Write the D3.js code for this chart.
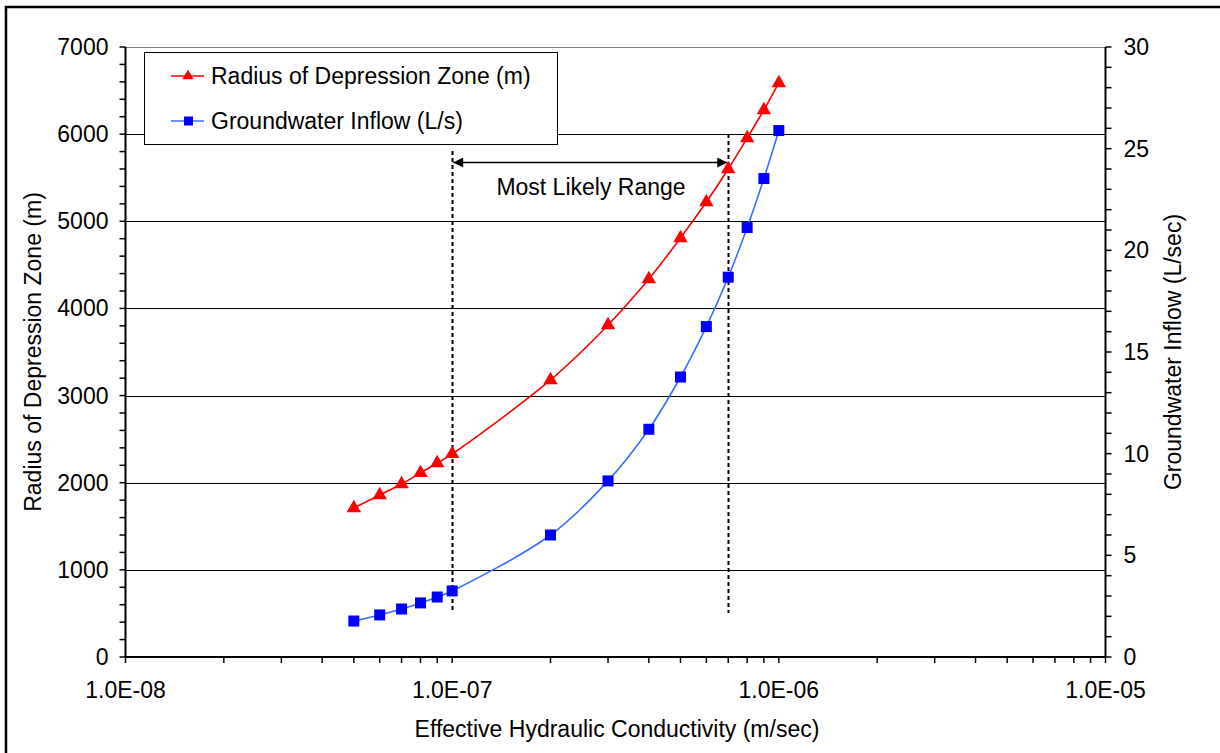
<!DOCTYPE html>
<html><head><meta charset="utf-8">
<script src="https://cdn.jsdelivr.net/npm/d3@7"></script>
<style>
html,body{margin:0;padding:0;background:#fff;}
svg{display:block;font-family:"Liberation Sans",Arial,sans-serif;}
</style></head>
<body>
<svg id="chart" width="1220" height="753"></svg>
<script>
const conductivity = [5e-8,6e-8,7e-8,8e-8,9e-8,1e-7,2e-7,3e-7,4e-7,5e-7,6e-7,7e-7,8e-7,9e-7,1e-6];
const radius = [1710,1859,1985,2112,2226,2330,3179,3810,4338,4808,5221,5600,5956,6277,6587];
const inflow = [1.77,2.07,2.36,2.66,2.95,3.25,6.0,8.66,11.2,13.77,16.25,18.68,21.12,23.53,25.89];
const xTicks = [1e-8,1e-7,1e-6,1e-5];
const leftTicks = [0,1000,2000,3000,4000,5000,6000,7000];
const rightTicks = [0,5,10,15,20,25,30];
const rangeBounds = [1e-7,7e-7];
const seriesNames = ["Radius of Depression Zone (m)","Groundwater Inflow (L/s)"];

const svg = d3.select("#chart");
const L=125.5, R=1105.5, T=47, B=657;
const x = d3.scaleLog().domain([1e-8,1e-5]).range([L,R]);
const yL = d3.scaleLinear().domain([0,7000]).range([B,T]);
const yR = d3.scaleLinear().domain([0,30]).range([B,T]);

// outer border
svg.append("rect").attr("x",6).attr("y",7).attr("width",1230).attr("height",760)
  .attr("fill","none").attr("stroke","#000").attr("stroke-width",2.5);

// gridlines
svg.append("g").selectAll("line").data(leftTicks.filter(d=>d>0)).join("line")
  .attr("x1",L).attr("x2",R).attr("y1",d=>Math.round(yL(d))+0.5).attr("y2",d=>Math.round(yL(d))+0.5)
  .attr("stroke",d=>d===7000?"#808080":"#000").attr("stroke-width",1);

// minor tick values
const leftMinor = d3.range(0,7001,200);
const rightMinor = d3.range(0,31,1);
const xMinor = [];
for (let e=-8;e<-5;e++) for (let m=1;m<10;m++) xMinor.push(m*Math.pow(10,e));
xMinor.push(1e-5);

const fontSize = 23;
// left axis
const gL = svg.append("g").attr("transform",`translate(${L},0)`);
gL.append("line").attr("y1",T).attr("y2",B).attr("stroke","#000").attr("stroke-width",2);
gL.selectAll(".mn").data(leftMinor).join("line").attr("x1",-6).attr("x2",0)
  .attr("y1",d=>yL(d)).attr("y2",d=>yL(d)).attr("stroke","#000").attr("stroke-width",1.5);
gL.selectAll("text").data(leftTicks).join("text").attr("x",-17).attr("y",d=>yL(d)).attr("dy","0.35em")
  .attr("text-anchor","end").attr("font-size",fontSize).text(d=>d);

// right axis
const gR = svg.append("g").attr("transform",`translate(${R},0)`);
gR.append("line").attr("y1",T).attr("y2",B).attr("stroke","#000").attr("stroke-width",2);
gR.selectAll(".mn").data(rightMinor).join("line").attr("x1",0).attr("x2",6)
  .attr("y1",d=>yR(d)).attr("y2",d=>yR(d)).attr("stroke","#000").attr("stroke-width",1.5);
gR.selectAll("text").data(rightTicks).join("text").attr("x",18).attr("y",d=>yR(d)).attr("dy","0.35em")
  .attr("text-anchor","start").attr("font-size",fontSize).text(d=>d);

// x axis
const gX = svg.append("g").attr("transform",`translate(0,${B})`);
gX.append("line").attr("x1",L).attr("x2",R).attr("stroke","#000").attr("stroke-width",2);
gX.selectAll(".mn").data(xMinor).join("line").attr("x1",d=>x(d)).attr("x2",d=>x(d))
  .attr("y1",0).attr("y2",6).attr("stroke","#000").attr("stroke-width",1.5);
gX.selectAll("text").data(xTicks).join("text").attr("x",d=>x(d)).attr("y",41)
  .attr("text-anchor","middle").attr("font-size",fontSize).text(d=>d.toExponential(1).replace(/e([+-])(\d)$/,"E$10$2").replace("e","E"));

// axis titles
svg.append("text").attr("x",617).attr("y",737).attr("text-anchor","middle").attr("font-size",fontSize)
  .text("Effective Hydraulic Conductivity (m/sec)");
svg.append("text").attr("transform","translate(41,352) rotate(-90)").attr("text-anchor","middle")
  .attr("font-size",fontSize).text("Radius of Depression Zone (m)");
svg.append("text").attr("transform","translate(1181,352) rotate(-90)").attr("text-anchor","middle")
  .attr("font-size",fontSize).text("Groundwater Inflow (L/sec)");

// range dashed lines
const dashTops = [151,134];
svg.append("g").selectAll("line").data(rangeBounds).join("line")
  .attr("x1",d=>Math.round(x(d))+0.5).attr("x2",d=>Math.round(x(d))+0.5)
  .attr("y1",(d,i)=>dashTops[i]).attr("y2",613)
  .attr("stroke","#000").attr("stroke-width",2).attr("stroke-dasharray","4,3");

// arrow
const defs = svg.append("defs");
defs.append("marker").attr("id","ah").attr("viewBox","0 0 10 10").attr("refX",10).attr("refY",5)
  .attr("markerWidth",14).attr("markerHeight",10).attr("markerUnits","userSpaceOnUse").attr("orient","auto-start-reverse")
  .append("path").attr("d","M0,0 L10,5 L0,10 Z").attr("fill","#000");
svg.append("line").attr("x1",x(rangeBounds[0])+1).attr("x2",x(rangeBounds[1])-1).attr("y1",162.5).attr("y2",162.5)
  .attr("stroke","#000").attr("stroke-width",1.5).attr("marker-start","url(#ah)").attr("marker-end","url(#ah)");
svg.append("text").attr("x",591).attr("y",195).attr("text-anchor","middle").attr("font-size",fontSize).text("Most Likely Range");

// series
const redData = conductivity.map((c,i)=>[c,radius[i]]);
const blueData = conductivity.map((c,i)=>[c,inflow[i]]);
const lineR = d3.line().x(d=>x(d[0])).y(d=>yL(d[1])).curve(d3.curveCatmullRom.alpha(0.5));
const lineB = d3.line().x(d=>x(d[0])).y(d=>yR(d[1])).curve(d3.curveCatmullRom.alpha(0.5));
svg.append("path").datum(blueData).attr("d",lineB).attr("fill","none").attr("stroke","#3A6EFF").attr("stroke-width",1.6);
svg.append("path").datum(redData).attr("d",lineR).attr("fill","none").attr("stroke","#FF0000").attr("stroke-width",1.6);

const tri = d3.symbol().type(d3.symbolTriangle).size(90);
svg.append("g").selectAll("path").data(redData).join("path")
  .attr("transform",d=>`translate(${x(d[0])},${yL(d[1])})`).attr("d",tri).attr("fill","#FF0000");
svg.append("g").selectAll("rect").data(blueData).join("rect")
  .attr("x",d=>x(d[0])-5.5).attr("y",d=>yR(d[1])-5.5).attr("width",11).attr("height",11).attr("fill","#0000FF");

// legend
const lg = svg.append("g");
lg.append("rect").attr("x",144.5).attr("y",52.5).attr("width",413).attr("height",92)
  .attr("fill","#fff").attr("stroke","#000").attr("stroke-width",1);
const rowsY=[76,121];
const colors=["#FF0000","#3A6EFF"];
const triS = d3.symbol().type(d3.symbolTriangle).size(55);
seriesNames.forEach((n,i)=>{
  lg.append("line").attr("x1",171).attr("x2",204).attr("y1",rowsY[i]).attr("y2",rowsY[i]).attr("stroke",colors[i]).attr("stroke-width",1.6);
  if(i===0) lg.append("path").attr("transform",`translate(188,${rowsY[i]})`).attr("d",triS).attr("fill","#FF0000");
  else lg.append("rect").attr("x",184).attr("y",rowsY[i]-4.5).attr("width",9).attr("height",9).attr("fill","#0000FF");
  lg.append("text").attr("x",211).attr("y",rowsY[i]).attr("dy","0.35em").attr("font-size",fontSize).text(n);
});
</script>
</body></html>
